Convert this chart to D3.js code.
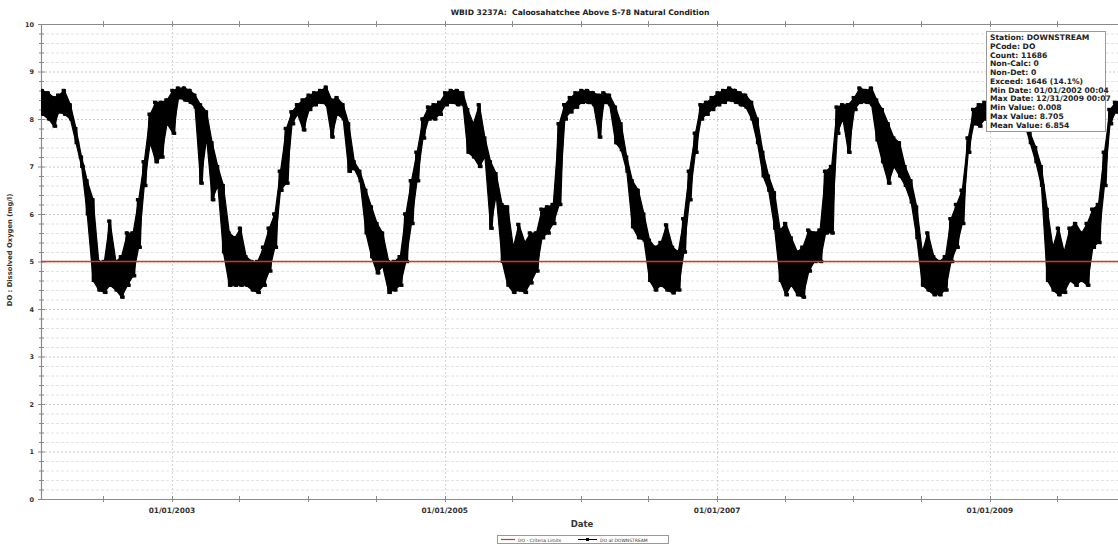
<!DOCTYPE html>
<html><head><meta charset="utf-8">
<script src="https://cdn.jsdelivr.net/npm/d3@7/dist/d3.min.js"></script>
<style>
body{margin:0;background:#fff;}
svg{display:block;font-family:"DejaVu Sans",Verdana,sans-serif;}
text{white-space:pre;}
</style></head>
<body>
<svg id="chart" width="1118" height="546"></svg>
<script>
// ---- DATA ----
const title = "WBID 3237A:  Caloosahatchee Above S-78 Natural Condition";
const yLabel = "DO : Dissolved Oxygen (mg/l)";
const xLabel = "Date";
const years = [2002,2003,2004,2005,2006,2007,2008,2009];
const yTicks = [0,1,2,3,4,5,6,7,8,9,10];
const xLabelTicks = ["2003-01-01","2005-01-01","2007-01-01","2009-01-01"];
const criteria = 5;
const seriesNames = ["DO - Criteria Limits","DO at DOWNSTREAM"];
const stats = ["Station: DOWNSTREAM","PCode: DO","Count: 11686","Non-Calc: 0","Non-Det: 0",
  "Exceed: 1646 (14.1%)","Min Date: 01/01/2002 00:04","Max Date: 12/31/2009 00:07",
  "Min Value: 0.008","Max Value: 8.705","Mean Value: 6.854"];
// half-month samples (1st and 16th of each month), low and high of the noisy band
const doLow = [
 8.3,8.1,8.0,7.85,8.15,8.1,8.0,7.5,7.0,6.0,4.6,4.4,4.35,4.5,4.4,4.25,4.5,4.7,5.3,6.6,7.5,7.1,7.2,7.9,
 7.7,8.45,8.4,8.35,8.25,6.65,7.6,6.3,6.6,5.2,4.5,4.5,4.5,4.5,4.4,4.35,4.5,4.8,5.3,6.5,6.65,7.9,8.1,7.77,
 8.2,8.3,8.35,8.3,7.62,8.1,8.0,6.9,6.95,6.7,5.6,5.1,4.76,4.9,4.35,4.4,4.5,5.0,5.8,6.7,7.6,8.0,8.0,8.1,
 8.3,8.35,8.3,8.3,7.3,7.2,7.0,7.2,5.7,6.4,5.0,4.5,4.35,4.4,4.35,4.55,4.8,5.5,5.6,5.8,6.2,8.0,8.15,8.25,
 8.35,8.35,8.3,7.62,8.35,8.3,7.5,7.35,6.9,5.73,5.5,5.45,4.6,4.4,4.5,4.4,4.34,4.4,5.2,6.3,7.3,8.0,8.1,8.2,
 8.3,8.35,8.4,8.35,8.3,8.25,8.0,7.5,6.8,6.5,5.7,4.6,4.3,4.5,4.3,4.25,4.8,5.0,5.0,5.6,5.6,7.7,8.0,7.3,
 8.2,8.35,8.35,8.3,7.56,7.1,6.65,7.0,6.8,6.6,6.25,5.5,4.5,4.4,4.3,4.3,4.4,5.0,5.3,5.8,7.3,7.9,7.85,8.0,
 8.1,8.2,8.3,8.3,8.25,8.2,7.9,7.5,7.1,6.6,4.6,4.4,4.3,4.35,4.6,4.5,4.6,4.5,5.3,5.4,6.6,7.9,8.15,8.2];
const doHigh = [
 8.5,8.6,8.55,8.45,8.5,8.6,8.3,7.8,7.2,6.7,6.3,5.0,5.0,5.85,5.0,5.1,5.6,5.6,6.3,7.1,8.1,8.35,8.35,8.4,
 8.6,8.65,8.65,8.6,8.5,8.3,8.15,7.5,7.0,6.6,5.6,5.5,5.7,5.1,5.0,5.0,5.3,5.7,6.0,6.9,7.8,8.15,8.3,8.4,
 8.5,8.55,8.6,8.67,8.4,8.45,8.3,7.9,7.1,6.9,6.5,6.15,5.8,5.6,5.0,5.0,5.1,6.0,6.7,7.3,8.0,8.25,8.3,8.35,
 8.55,8.6,8.6,8.55,8.2,7.9,8.3,7.6,7.1,6.85,6.2,6.15,5.3,5.78,5.4,5.6,5.6,6.1,6.15,6.2,7.9,8.3,8.45,8.55,
 8.6,8.6,8.55,8.5,8.55,8.5,8.25,7.9,7.2,6.7,6.5,6.0,5.45,5.3,5.4,5.77,5.3,5.2,5.9,6.9,7.7,8.3,8.35,8.45,
 8.55,8.6,8.65,8.6,8.55,8.5,8.35,8.0,7.3,6.8,6.45,5.66,5.8,5.5,5.2,5.3,5.66,5.6,5.66,6.9,7.0,8.25,8.3,8.3,
 8.45,8.65,8.6,8.65,8.4,8.2,7.9,7.6,7.5,7.0,6.7,6.15,5.2,5.6,5.1,5.0,5.1,5.9,6.2,6.5,7.6,8.2,8.3,8.35,
 8.4,8.5,8.55,8.6,8.55,8.45,8.2,7.7,7.4,7.0,6.1,5.3,5.7,5.2,5.7,5.8,5.6,5.8,6.1,6.2,7.3,8.2,8.35,8.4];

// ---- CHART ----
const plot = {left: 41, right: 1118, top: 24, bottom: 499};
const svg = d3.select("#chart");

const x = d3.scaleUtc().domain([Date.UTC(2002,0,1), Date.UTC(2010,0,1)]).range([35.7, 1126.1]);
const y = d3.scaleLinear().domain([0, 10]).range([plot.bottom, plot.top]);

// sample dates
const sampleDates = [];
years.forEach(yr => { for (let m = 0; m < 12; m++) { sampleDates.push(new Date(Date.UTC(yr,m,1))); sampleDates.push(new Date(Date.UTC(yr,m,16))); } });
const band = sampleDates.map((d, i) => ({t: d, lo: doLow[i], hi: doHigh[i]}));
const pts = [];
band.forEach(b => {
  pts.push({t: b.t, v: b.hi});
  pts.push({t: d3.utcDay.offset(b.t, 7), v: b.lo});
});

svg.append("defs").append("clipPath").attr("id","clip").append("rect")
  .attr("x", plot.left).attr("y", plot.top - 2).attr("width", plot.right - plot.left).attr("height", plot.bottom - plot.top + 2);

// title
svg.append("text").attr("x", 580).attr("y", 15).attr("text-anchor","middle")
  .attr("font-size", 7.6).attr("font-weight","bold").attr("fill","#222").text(title);

// grid
const minorY = d3.range(0, 10.001, 0.2).filter(v => Math.abs(v - Math.round(v)) > 0.01);
svg.append("g").selectAll("line").data(minorY).join("line")
  .attr("x1", plot.left).attr("x2", plot.right).attr("y1", d => y(d) + 0.5).attr("y2", d => y(d) + 0.5)
  .attr("stroke", "#e4e4e4").attr("stroke-width", 1).attr("stroke-dasharray", "3,2");
svg.append("g").selectAll("line").data(yTicks.slice(1, -1)).join("line")
  .attr("x1", plot.left).attr("x2", plot.right).attr("y1", d => y(d) + 0.5).attr("y2", d => y(d) + 0.5)
  .attr("stroke", "#c8c8c8").attr("stroke-width", 1).attr("stroke-dasharray", "2,2");
const labelDates = xLabelTicks.map(s => new Date(s + "T00:00:00Z"));
svg.append("g").selectAll("line").data(labelDates).join("line")
  .attr("x1", d => Math.round(x(d)) + 0.5).attr("x2", d => Math.round(x(d)) + 0.5)
  .attr("y1", plot.top).attr("y2", plot.bottom)
  .attr("stroke", "#d4d4d4").attr("stroke-width", 1).attr("stroke-dasharray", "2,2");

// axes frame
const axisCol = "#8a8a8a";
svg.append("line").attr("x1", plot.left + 0.5).attr("x2", plot.left + 0.5).attr("y1", plot.top).attr("y2", plot.bottom)
  .attr("stroke", axisCol).attr("stroke-width", 1.2);
svg.append("line").attr("x1", plot.left).attr("x2", plot.right).attr("y1", plot.bottom + 0.5).attr("y2", plot.bottom + 0.5)
  .attr("stroke", axisCol).attr("stroke-width", 1.2);
svg.append("line").attr("x1", plot.left).attr("x2", plot.right).attr("y1", plot.top + 0.5).attr("y2", plot.top + 0.5)
  .attr("stroke", axisCol).attr("stroke-width", 1);

// y ticks
const allYTicks = d3.range(0, 10.001, 0.2);
svg.append("g").selectAll("line").data(allYTicks).join("line")
  .attr("x1", d => Math.abs(d - Math.round(d)) < 0.01 ? plot.left - 3 : plot.left - 2)
  .attr("x2", d => Math.abs(d - Math.round(d)) < 0.01 ? plot.left + 4 : plot.left + 3)
  .attr("y1", d => y(d) + 0.5).attr("y2", d => y(d) + 0.5).attr("stroke", axisCol);
svg.append("g").selectAll("text").data(yTicks).join("text")
  .attr("x", 34).attr("y", d => y(d) + 2.5).attr("text-anchor","end")
  .attr("font-size", 6.5).attr("font-weight","bold").attr("fill","#333").text(d => d);

// x ticks every 6 months
const xTickDates = d3.utcMonth.every(6).range(new Date(Date.UTC(2002,5,1)), new Date(Date.UTC(2010,1,1)))
  .filter(d => x(d) >= plot.left && x(d) <= plot.right);
svg.append("g").selectAll("line").data(xTickDates).join("line")
  .attr("x1", d => Math.round(x(d)) + 0.5).attr("x2", d => Math.round(x(d)) + 0.5)
  .attr("y1", plot.bottom - 3).attr("y2", plot.bottom + 3).attr("stroke", axisCol);
svg.append("g").selectAll("line").data(xTickDates).join("line")
  .attr("x1", d => Math.round(x(d)) + 0.5).attr("x2", d => Math.round(x(d)) + 0.5)
  .attr("y1", plot.top - 3).attr("y2", plot.top + 3).attr("stroke", axisCol);
const fmt = d3.utcFormat("%m/%d/%Y");
svg.append("g").selectAll("text").data(labelDates).join("text")
  .attr("x", d => x(d)).attr("y", 513).attr("text-anchor","middle")
  .attr("font-size", 7.4).attr("font-weight","bold").attr("fill","#333").text(d => fmt(d));

// axis titles
svg.append("text").attr("x", 582).attr("y", 527).attr("text-anchor","middle")
  .attr("font-size", 8.5).attr("font-weight","bold").attr("fill","#333").text(xLabel);
svg.append("text").attr("transform","translate(12,250) rotate(-90)").attr("text-anchor","middle")
  .attr("font-size", 6.8).attr("font-weight","bold").attr("fill","#333").text(yLabel);

// data: dense band + noisy line with square markers
const g = svg.append("g").attr("clip-path","url(#clip)");
const area = d3.area().x(d => x(d3.utcDay.offset(d.t, 3))).y0(d => y(d.lo)).y1(d => y(d.hi));
g.append("path").datum(band).attr("d", area).attr("fill","#000")
  .attr("stroke","#000").attr("stroke-width", 1.2).attr("stroke-linejoin","round");
g.append("g").selectAll("line").data(band).join("line")
  .attr("x1", d => x(d3.utcDay.offset(d.t, 3.5))).attr("x2", d => x(d3.utcDay.offset(d.t, 3.5)))
  .attr("y1", d => y(d.lo)).attr("y2", d => y(d.hi))
  .attr("stroke", "#000").attr("stroke-width", 3).attr("stroke-linecap", "square");
const line = d3.line().x(d => x(d.t)).y(d => y(d.v));
g.append("path").datum(pts).attr("d", line).attr("fill","none").attr("stroke","#000").attr("stroke-width", 1.4);
g.append("g").selectAll("rect").data(pts).join("rect")
  .attr("x", d => x(d.t) - 1.7).attr("y", d => y(d.v) - 1.7).attr("width", 3.4).attr("height", 3.4).attr("fill","#000");

// criteria line
svg.append("line").attr("x1", plot.left).attr("x2", plot.right).attr("y1", y(criteria)).attr("y2", y(criteria))
  .attr("stroke", "#e0301e").attr("stroke-width", 1.3);

// stats box
const sb = svg.append("g");
sb.append("rect").attr("x", 986.5).attr("y", 31.5).attr("width", 119).attr("height", 100)
  .attr("fill","#fff").attr("stroke","#9a9a9a").attr("stroke-width", 1);
sb.selectAll("text").data(stats).join("text")
  .attr("x", 990).attr("y", (d, i) => 40 + i * 8.75)
  .attr("font-size", 7.6).attr("font-weight","bold").attr("fill","#222").text(d => d);

// legend
const lg = svg.append("g");
lg.append("rect").attr("x", 497.5).attr("y", 535.5).attr("width", 171).attr("height", 8)
  .attr("fill","#fff").attr("stroke","#999");
lg.append("line").attr("x1", 501).attr("x2", 515).attr("y1", 539.5).attr("y2", 539.5).attr("stroke","#e0301e").attr("stroke-width", 1.2);
lg.append("text").attr("x", 518).attr("y", 541.5).attr("font-size", 4.5).attr("fill","#333").text(seriesNames[0]);
lg.append("line").attr("x1", 578).attr("x2", 597).attr("y1", 539.5).attr("y2", 539.5).attr("stroke","#000").attr("stroke-width", 1);
lg.append("rect").attr("x", 586).attr("y", 538).attr("width", 3).attr("height", 3).attr("fill","#000");
lg.append("text").attr("x", 600).attr("y", 541.5).attr("font-size", 4.5).attr("fill","#333").text(seriesNames[1]);
</script>
</body></html>
